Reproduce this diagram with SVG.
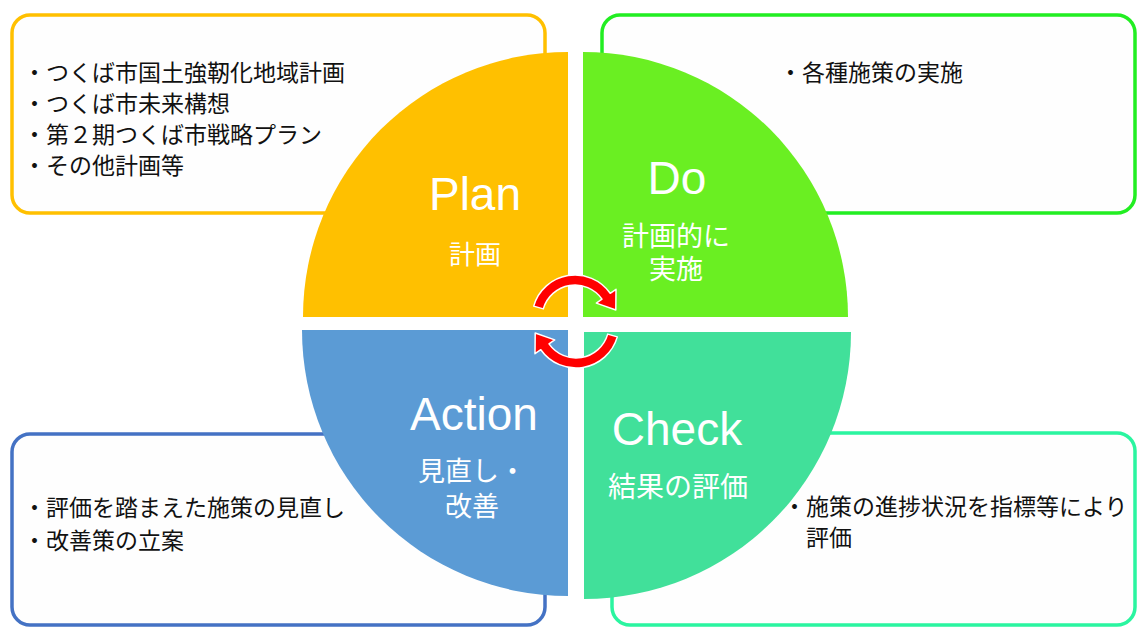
<svg xmlns="http://www.w3.org/2000/svg" width="1137" height="628" viewBox="0 0 1137 628">
  <style>
    .box { fill: #FEFEFE; stroke-width: 3.5; }
    .note { font-family: "Noto Sans CJK JP", "Noto Sans", sans-serif; font-size: 23px; fill: #111111; }
    .en { font-family: "Liberation Sans", Arial, sans-serif; font-size: 46px; fill: #FFFFFF; text-anchor: middle; }
    .jp { font-family: "Noto Sans CJK JP", "Noto Sans", sans-serif; font-size: 26px; fill: #FFFFFF; text-anchor: middle; }
    .arrow { fill: #FF0000; stroke: #FFFFFF; stroke-width: 1.5; stroke-linejoin: round; }
  </style>
  <defs>
    <path id="cycleArrow" class="arrow" d="M533.7,306.1 A43,43 0 0 1 610.2,293.3 L616.0,289.3 L615.8,310.0 L596.3,303.1 L602.0,299.1 A33,33 0 0 0 543.3,308.9 Z"/>
  </defs>
  <rect x="0" y="0" width="1137" height="628" fill="#FFFFFF"/>

  <g id="plan-notes">
    <rect class="box" x="12" y="15" width="533" height="198" rx="18" stroke="#FFC000"/>
    <text class="note" x="23" y="81">・つくば市国土強靭化地域計画</text>
    <text class="note" x="23" y="112">・つくば市未来構想</text>
    <text class="note" x="23" y="143">・第２期つくば市戦略プラン</text>
    <text class="note" x="23" y="174">・その他計画等</text>
  </g>
  <g id="do-notes">
    <rect class="box" x="602" y="15" width="533" height="198" rx="18" stroke="#22EE22"/>
    <text class="note" x="779" y="81">・各種施策の実施</text>
  </g>
  <g id="action-notes">
    <rect class="box" x="12" y="434" width="533" height="191" rx="18" stroke="#4472C4"/>
    <text class="note" x="23" y="516">・評価を踏まえた施策の見直し</text>
    <text class="note" x="23" y="549">・改善策の立案</text>
  </g>
  <g id="check-notes">
    <rect class="box" x="612" y="433" width="523" height="192" rx="18" stroke="#2AF5A0"/>
    <text class="note" x="783" y="515">・施策の進捗状況を指標等により<tspan x="806" dy="31">評価</tspan></text>
  </g>

  <g id="plan">
    <path d="M568,317 L303,317 A265,265 0 0 1 568,52 Z" fill="#FFC000"/>
    <text class="en" x="475" y="210">Plan</text>
    <text class="jp" x="475" y="264">計画</text>
  </g>
  <g id="do">
    <path d="M583,317 L583,52 A265,265 0 0 1 848,317 Z" fill="#6AEF22"/>
    <text class="en" x="677" y="194">Do</text>
    <text class="jp" style="font-size:27px"><tspan x="676" y="246">計画的に</tspan><tspan x="676" y="279">実施</tspan></text>
  </g>
  <g id="action">
    <path d="M568,330 L568,596 A266,266 0 0 1 302,330 Z" fill="#5B9BD5"/>
    <text class="en" x="474" y="430">Action</text>
    <text class="jp" style="font-size:27px"><tspan x="472" y="481">見直し・</tspan><tspan x="472" y="516">改善</tspan></text>
  </g>
  <g id="check">
    <path d="M584,332 L851,332 A267,267 0 0 1 584,599 Z" fill="#41E09A"/>
    <text class="en" x="677" y="445">Check</text>
    <text class="jp" x="678" y="497" style="font-size:28px">結果の評価</text>
  </g>

  <g id="connectors">
    <use href="#cycleArrow"/>
    <use href="#cycleArrow" transform="rotate(180 575.5 321.5)"/>
  </g>
</svg>
